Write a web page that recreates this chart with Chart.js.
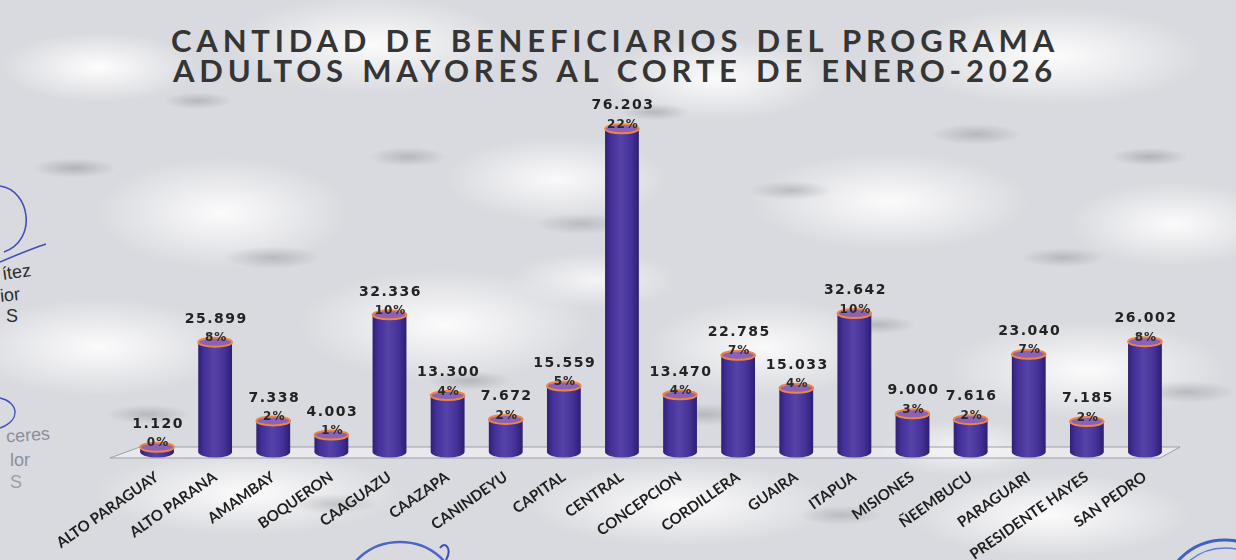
<!DOCTYPE html>
<html lang="es">
<head>
<meta charset="utf-8">
<title>Beneficiarios Adultos Mayores</title>
<script src="https://cdn.jsdelivr.net/npm/chart.js@4.4.1/dist/chart.umd.min.js"></script>
<style>
  html, body { margin: 0; padding: 0; }
  body {
    width: 1236px; height: 560px; overflow: hidden; position: relative;
    background-color: #d9dadf;
    background-image:
      radial-gradient(ellipse 60px 14px at 6% 30%, rgba(130,132,140,.45), rgba(130,132,140,0) 70%),
      radial-gradient(ellipse 50px 12px at 16% 18%, rgba(130,132,140,.4), rgba(130,132,140,0) 70%),
      radial-gradient(ellipse 70px 16px at 22% 46%, rgba(130,132,140,.4), rgba(130,132,140,0) 70%),
      radial-gradient(ellipse 55px 14px at 33% 28%, rgba(130,132,140,.4), rgba(130,132,140,0) 70%),
      radial-gradient(ellipse 60px 14px at 38% 68%, rgba(130,132,140,.4), rgba(130,132,140,0) 70%),
      radial-gradient(ellipse 65px 15px at 47% 40%, rgba(130,132,140,.35), rgba(130,132,140,0) 70%),
      radial-gradient(ellipse 50px 12px at 53% 20%, rgba(130,132,140,.4), rgba(130,132,140,0) 70%),
      radial-gradient(ellipse 70px 16px at 57% 74%, rgba(130,132,140,.4), rgba(130,132,140,0) 70%),
      radial-gradient(ellipse 60px 14px at 64% 34%, rgba(130,132,140,.4), rgba(130,132,140,0) 70%),
      radial-gradient(ellipse 55px 13px at 71% 58%, rgba(130,132,140,.4), rgba(130,132,140,0) 70%),
      radial-gradient(ellipse 65px 15px at 79% 24%, rgba(130,132,140,.4), rgba(130,132,140,0) 70%),
      radial-gradient(ellipse 60px 14px at 86% 46%, rgba(130,132,140,.4), rgba(130,132,140,0) 70%),
      radial-gradient(ellipse 55px 13px at 93% 28%, rgba(130,132,140,.45), rgba(130,132,140,0) 70%),
      radial-gradient(ellipse 70px 16px at 96% 70%, rgba(130,132,140,.4), rgba(130,132,140,0) 70%),
      radial-gradient(ellipse 60px 14px at 12% 74%, rgba(130,132,140,.4), rgba(130,132,140,0) 70%),
      radial-gradient(ellipse 65px 15px at 27% 90%, rgba(130,132,140,.35), rgba(130,132,140,0) 70%),
      radial-gradient(ellipse 60px 14px at 68% 92%, rgba(130,132,140,.35), rgba(130,132,140,0) 70%),
      radial-gradient(ellipse 140px 50px at 8% 12%, rgba(255,255,255,.95), rgba(255,255,255,0) 70%),
      radial-gradient(ellipse 200px 70px at 30% 8%, rgba(255,255,255,.9), rgba(255,255,255,0) 70%),
      radial-gradient(ellipse 160px 60px at 58% 14%, rgba(255,255,255,.9), rgba(255,255,255,0) 70%),
      radial-gradient(ellipse 220px 70px at 85% 10%, rgba(255,255,255,.95), rgba(255,255,255,0) 70%),
      radial-gradient(ellipse 180px 80px at 18% 38%, rgba(255,255,255,.9), rgba(255,255,255,0) 70%),
      radial-gradient(ellipse 160px 60px at 45% 32%, rgba(255,255,255,.85), rgba(255,255,255,0) 70%),
      radial-gradient(ellipse 200px 70px at 72% 36%, rgba(255,255,255,.9), rgba(255,255,255,0) 70%),
      radial-gradient(ellipse 150px 60px at 95% 40%, rgba(255,255,255,.9), rgba(255,255,255,0) 70%),
      radial-gradient(ellipse 190px 70px at 8% 62%, rgba(255,255,255,.9), rgba(255,255,255,0) 70%),
      radial-gradient(ellipse 210px 80px at 36% 58%, rgba(255,255,255,.9), rgba(255,255,255,0) 70%),
      radial-gradient(ellipse 170px 70px at 62% 62%, rgba(255,255,255,.85), rgba(255,255,255,0) 70%),
      radial-gradient(ellipse 200px 70px at 88% 66%, rgba(255,255,255,.9), rgba(255,255,255,0) 70%),
      radial-gradient(ellipse 220px 60px at 20% 88%, rgba(255,255,255,.9), rgba(255,255,255,0) 70%),
      radial-gradient(ellipse 220px 60px at 55% 90%, rgba(255,255,255,.9), rgba(255,255,255,0) 70%),
      radial-gradient(ellipse 200px 60px at 85% 92%, rgba(255,255,255,.9), rgba(255,255,255,0) 70%),
      radial-gradient(ellipse 120px 40px at 48% 50%, rgba(255,255,255,.7), rgba(255,255,255,0) 70%),
      radial-gradient(ellipse 120px 40px at 78% 80%, rgba(255,255,255,.7), rgba(255,255,255,0) 70%);
  }
  #titulo {
    position: absolute; left: 0; top: 25px; width: 1230px; text-align: center;
    font-family: Lato, "Open Sans", sans-serif; font-weight: 700; font-size: 31px;
    letter-spacing: 4.8px; word-spacing: 2px; line-height: 30px; color: #353535;
  }
  #grafico { position: absolute; left: 0; top: 0; }
  .firma { position: absolute; font-family: "Liberation Sans", Arial, sans-serif; font-size: 18px; }
  #sellos { position: absolute; left: 0; top: 0; pointer-events: none; }
</style>
</head>
<body>
<svg id="sellos" width="1236" height="560">
  <path d="M 0 186 C 30 190, 38 240, 4 252 M 0 262 C 14 256, 28 250, 46 244" fill="none" stroke="#3d4fb8" stroke-width="1.6"/>
  <path d="M 0 398 C 18 402, 22 420, 0 428" fill="none" stroke="#3d4fb8" stroke-width="1.4"/>
  <ellipse cx="400" cy="590" rx="55" ry="48" fill="none" stroke="#4a66c8" stroke-width="2.5"/>
  <path d="M 440 548 C 446 540, 452 550, 446 560" fill="none" stroke="#3d4fb8" stroke-width="2"/>
  <ellipse cx="1225" cy="600" rx="62" ry="60" fill="none" stroke="#3f63c4" stroke-width="3"/>
  <ellipse cx="1225" cy="600" rx="54" ry="52" fill="none" stroke="#5b7fd6" stroke-width="1.5"/>
</svg>
<div class="firma" style="left:2px; top:262px; color:#2b2b2b; transform:rotate(-8deg)">ítez</div>
<div class="firma" style="left:0px; top:285px; color:#2b2b2b; transform:rotate(-6deg)">ior</div>
<div class="firma" style="left:6px; top:306px; color:#2b2b2b;">S</div>
<div class="firma" style="left:6px; top:425px; color:#8a8f99; transform:rotate(-4deg)">ceres</div>
<div class="firma" style="left:10px; top:450px; color:#8a8f99;">lor</div>
<div class="firma" style="left:10px; top:472px; color:#9a9fa8;">S</div>
<div id="titulo">CANTIDAD DE BENEFICIARIOS DEL PROGRAMA<br>ADULTOS MAYORES AL CORTE DE ENERO-2026</div>
<canvas id="grafico" width="1236" height="560"></canvas>
<script>
// Beneficiarios por departamento
const categorias = ['ALTO PARAGUAY', 'ALTO PARANA', 'AMAMBAY', 'BOQUERON', 'CAAGUAZU', 'CAAZAPA',
  'CANINDEYU', 'CAPITAL', 'CENTRAL', 'CONCEPCION', 'CORDILLERA', 'GUAIRA', 'ITAPUA', 'MISIONES',
  'ÑEEMBUCU', 'PARAGUARI', 'PRESIDENTE HAYES', 'SAN PEDRO'];
const beneficiarios = [1120, 25899, 7338, 4003, 32336, 13300, 7672, 15559, 76203, 13470,
  22785, 15033, 32642, 9000, 7616, 23040, 7185, 26002];
const porcentajes = ['0%', '8%', '2%', '1%', '10%', '4%', '2%', '5%', '22%', '4%',
  '7%', '4%', '10%', '3%', '2%', '7%', '2%', '8%'];

const colorBarra = '#4833a0';

function miles(n) {
  return String(n).replace(/\B(?=(\d{3})+(?!\d))/g, '.');
}

// Floor band under the bars
const piso = {
  id: 'piso',
  beforeDatasetsDraw(chart) {
    const { ctx, chartArea: a } = chart;
    const y = a.bottom;
    ctx.save();
    ctx.beginPath();
    ctx.moveTo(a.left + 12, y - 5);
    ctx.lineTo(a.right + 6, y - 5);
    ctx.lineTo(a.right - 14, y + 6);
    ctx.lineTo(a.left - 18, y + 6);
    ctx.closePath();
    ctx.fillStyle = 'rgba(245,245,248,0.55)';
    ctx.fill();
    ctx.strokeStyle = 'rgba(150,152,162,0.9)';
    ctx.lineWidth = 1;
    ctx.stroke();
    ctx.restore();
  }
};

// Cylinder shading, caps and labels for each bar
const cilindros = {
  id: 'cilindros',
  afterDatasetsDraw(chart) {
    const { ctx } = chart;
    const meta = chart.getDatasetMeta(0);
    meta.data.forEach((bar, i) => {
      const w = bar.width, x0 = bar.x - w / 2, x1 = bar.x + w / 2;
      const top = bar.y, base = bar.base;
      const rx = w / 2, ry = 4.5;
      ctx.save();
      // bottom half ellipse
      ctx.beginPath();
      ctx.ellipse(bar.x, base, rx, ry + 1, 0, 0, Math.PI);
      ctx.fillStyle = colorBarra;
      ctx.fill();
      // side shading
      const g = ctx.createLinearGradient(x0, 0, x1, 0);
      g.addColorStop(0, 'rgba(20,10,60,0.45)');
      g.addColorStop(0.18, 'rgba(20,10,60,0.05)');
      g.addColorStop(0.45, 'rgba(255,255,255,0.08)');
      g.addColorStop(0.8, 'rgba(20,10,60,0.1)');
      g.addColorStop(1, 'rgba(20,10,60,0.5)');
      ctx.beginPath();
      ctx.rect(x0, top, w, base - top);
      ctx.ellipse(bar.x, base, rx, ry + 1, 0, 0, Math.PI);
      ctx.fillStyle = g;
      ctx.fill();
      // top cap
      ctx.beginPath();
      ctx.ellipse(bar.x, top, rx, ry, 0, 0, Math.PI * 2);
      ctx.fillStyle = '#8a62b8';
      ctx.fill();
      ctx.lineWidth = 2;
      ctx.strokeStyle = '#f0863e';
      ctx.stroke();
      // labels
      ctx.fillStyle = '#222';
      ctx.textAlign = 'center';
      ctx.textBaseline = 'middle';
      if ('letterSpacing' in ctx) ctx.letterSpacing = '1.5px';
      ctx.font = 'bold 14px "DejaVu Sans", sans-serif';
      ctx.fillText(miles(beneficiarios[i]), bar.x + 1, top - 23);
      if ('letterSpacing' in ctx) ctx.letterSpacing = '1px';
      ctx.font = 'bold 12px "DejaVu Sans", sans-serif';
      ctx.fillStyle = '#2a2a2a';
      ctx.fillText(porcentajes[i], bar.x + 1, top - 4);
      ctx.restore();
    });
  }
};

new Chart(document.getElementById('grafico'), {
  type: 'bar',
  data: {
    labels: categorias,
    datasets: [{
      data: beneficiarios,
      backgroundColor: colorBarra,
      borderWidth: 0,
      categoryPercentage: 1,
      barPercentage: 0.58
    }]
  },
  options: {
    responsive: false,
    animation: false,
    devicePixelRatio: 1,
    layout: { padding: { left: 128, right: 62, top: 100, bottom: 0 } },
    plugins: { legend: { display: false }, tooltip: { enabled: false } },
    scales: {
      x: {
        grid: { display: false },
        border: { display: false },
        ticks: {
          autoSkip: false,
          minRotation: 35,
          maxRotation: 35,
          padding: 8,
          color: '#1e1e1e',
          font: { family: 'Lato', weight: 'bold', size: 15 }
        },
        afterFit(scale) { scale.height = 108; }
      },
      y: { display: false, min: 0, max: 83000 }
    }
  },
  plugins: [piso, cilindros]
});
</script>
</body>
</html>
